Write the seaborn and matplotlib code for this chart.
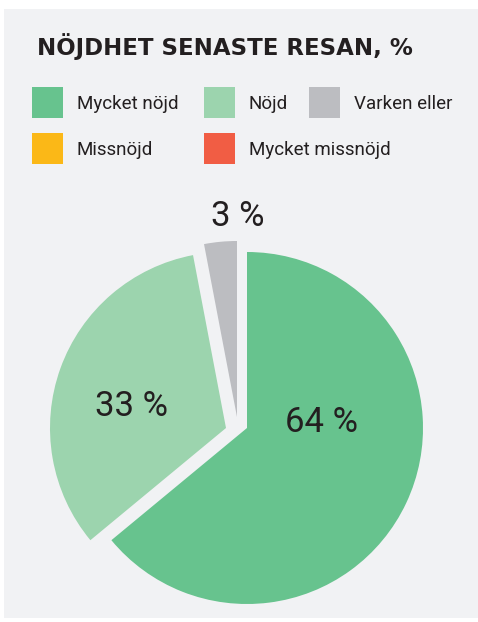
import matplotlib
matplotlib.use("Agg")
import matplotlib.pyplot as plt
import seaborn as sns
from matplotlib.patches import Rectangle

# data
categories = ["Mycket nöjd", "Nöjd", "Varken eller", "Missnöjd", "Mycket missnöjd"]
shares = [64, 33, 3, 0, 0]
colors = ["#67c38e", "#9cd4ae", "#bcbdc1", "#fbb817", "#f15d44"]
title = "NÖJDHET SENASTE RESAN, %"

sns.set_theme(style="white")
plt.rcParams["font.family"] = ["Roboto", "DejaVu Sans"]
palette = sns.color_palette(colors)

bg = "#f1f2f4"
ink = "#231f20"

fig = plt.figure(figsize=(4.78, 6.22), dpi=100, facecolor="white")
ax = fig.add_axes([0, 0, 1, 1])

# panel
ax.add_patch(Rectangle((4, 9), 474, 609, facecolor=bg, edgecolor="none", zorder=0))

# pie (only the non-empty slices), pixel coordinates with y pointing down
shown = [i for i, v in enumerate(shares) if v > 0]
cx, cy, r = 247, 428, 176
wedges, _ = ax.pie([shares[i] for i in shown], colors=[palette[i] for i in shown],
                   startangle=-90, counterclock=True, center=(cx, cy), radius=r,
                   wedgeprops=dict(linewidth=0))
offsets = [(0, 0), (-21, 0), (-10, -11)]
for w, (dx, dy) in zip(wedges, offsets):
    w.set_center((cx + dx, cy + dy))
    w.set_zorder(2)

label_pos = [(322, 423), (132, 406), (238, 216)]
for i, (x, y) in zip(shown, label_pos):
    ax.text(x, y, f"{shares[i]} %", fontsize=25, color=ink, ha="center", va="center", zorder=3)

# title
ax.text(37, 55, title, fontsize=16.5, fontweight="bold", color=ink,
        family=["DejaVu Sans"], ha="left", va="baseline")

# legend
leg_pos = [(32, 87), (204, 87), (309, 87), (32, 133), (204, 133)]
for cat, col, (x, y) in zip(categories, palette, leg_pos):
    ax.add_patch(Rectangle((x, y), 31, 31, facecolor=col, edgecolor="none"))
    ax.text(x + 45, y + 22, cat, fontsize=13.5, color=ink, ha="left", va="baseline")

ax.set_xlim(0, 478)
ax.set_ylim(622, 0)
ax.set_aspect("auto")
ax.axis("off")

fig.savefig("out.png", dpi=100, facecolor="white")
